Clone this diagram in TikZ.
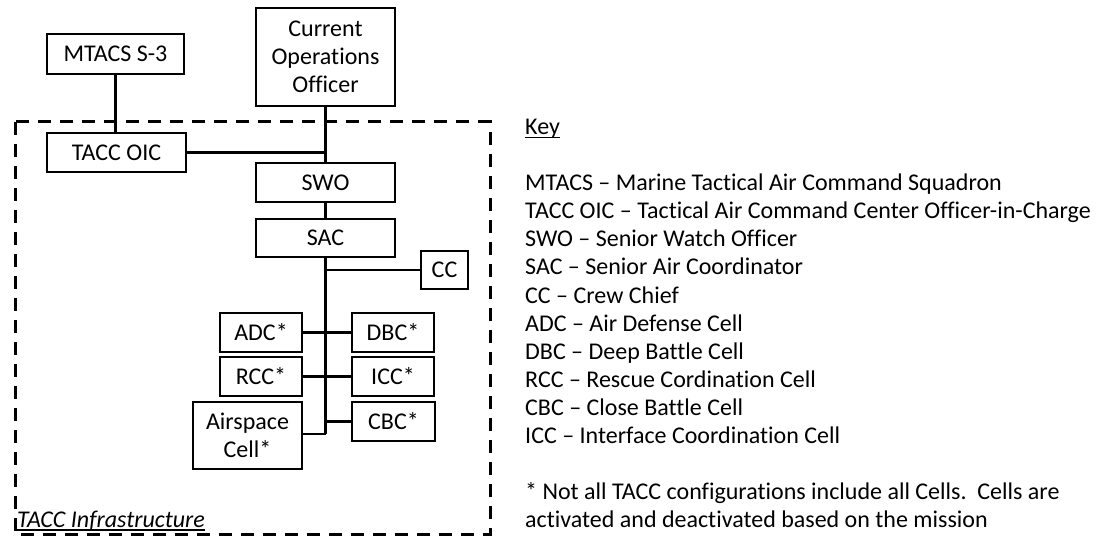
\documentclass[tikz,border=0pt]{standalone}
\usepackage{fontspec}
\setmainfont{Carlito}[Ligatures=NoCommon]
\newcommand{\diafont}{\fontsize{24}{28}\selectfont}
\begin{document}
\begin{tikzpicture}[x=1pt,y=-1pt,
  box/.style={draw, line width=2.5pt, inner sep=0pt, align=center, font=\diafont},
  link/.style={line width=2.3pt},
  keytext/.style={anchor=base west, inner sep=0pt, font=\diafont},
  uline/.style={line width=1.4pt},
  frame/.style={line width=3pt, dash pattern=on 13pt off 9pt}
]
\useasboundingbox (0,0) rectangle (1097,537);

% boxes
\node[box, minimum width=137pt, minimum height=40pt] (mtacs) at (115.5,54) {MTACS S-3};
\node[box, minimum width=139pt, minimum height=98pt] (coo) at (325.5,57) {Current\\Operations\\Officer};
\node[box, minimum width=139pt, minimum height=39pt] (oic) at (116.5,152.5) {TACC OIC};
\node[box, minimum width=139pt, minimum height=39pt] (swo) at (325.5,182.5) {SWO};
\node[box, minimum width=139pt, minimum height=38pt] (sac) at (325.5,238) {SAC};
\node[box, minimum width=47pt, minimum height=38pt] (cc) at (444.5,270) {CC};
\node[box, minimum width=82pt, minimum height=39pt] (adc) at (261,332.5) {ADC*};
\node[box, minimum width=82pt, minimum height=39pt] (dbc) at (393,332.5) {DBC*};
\node[box, minimum width=82pt, minimum height=39pt] (rcc) at (261,376.5) {RCC*};
\node[box, minimum width=82pt, minimum height=39pt] (icc) at (393,376.5) {ICC*};
\node[box, minimum width=109pt, minimum height=67pt] (air) at (247.5,435.5) {Airspace\\Cell*};
\node[box, minimum width=83pt, minimum height=39pt] (cbc) at (393.5,421.5) {CBC*};

% connectors
\coordinate (spinebot) at (325.5,434);
\draw[link] (mtacs.south) -- (mtacs.south |- oic.north);
\draw[link] (coo.south) -- (swo.north);
\draw[link] (oic.east) -- (oic.east -| swo.north);
\draw[link] (swo.south) -- (sac.north);
\draw[link] (sac.south) -- (spinebot);
\draw[link] (cc.west) -- (cc.west -| sac.south);
\draw[link] (adc.east) -- (dbc.west);
\draw[link] (rcc.east) -- (icc.west);
\draw[link] (cbc.west) -- (cbc.west -| sac.south);
\draw[link] (air.east |- spinebot) -- (spinebot);

% infrastructure frame
\draw[frame] (15,122) rectangle (490,534);
\node[anchor=base west, inner sep=0pt, font=\diafont\itshape] (infra) at (17,527.5) {TACC Infrastructure};
\draw[uline] ([yshift=-2.5pt]infra.base west) -- ([yshift=-2.5pt]infra.base east);

% key
\node[keytext] (key) at (525,135) {Key};
\draw[uline] ([yshift=-2.5pt]key.base west) -- ([yshift=-2.5pt]key.base east);
\foreach \t [count=\i] in {MTACS – Marine Tactical Air Command Squadron,
  TACC OIC – Tactical Air Command Center Officer-in-Charge,
  SWO – Senior Watch Officer,
  SAC – Senior Air Coordinator,
  CC – Crew Chief,
  ADC – Air Defense Cell,
  DBC – Deep Battle Cell,
  RCC – Rescue Cordination Cell,
  CBC – Close Battle Cell,
  ICC – Interface Coordination Cell}
  \node[keytext] (k\i) at (525,{163+28*\i}) {\t};
\node[keytext] (fn1) at (525,499) {* Not all TACC configurations include all Cells.\ \ Cells are};
\node[keytext] (fn2) at (525,527) {activated and deactivated based on the mission};
\end{tikzpicture}
\end{document}
